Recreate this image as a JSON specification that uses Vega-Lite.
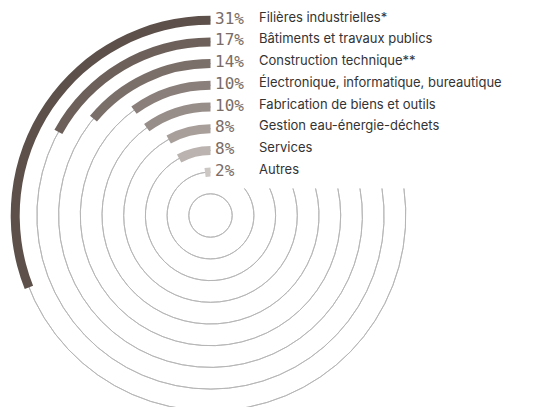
{
  "$schema": "https://vega.github.io/schema/vega-lite/v6.json",
  "width": 421,
  "height": 431,
  "padding": 0,
  "autosize": {"type": "pad"},
  "background": "white",
  "config": {"view": {"stroke": null}},
  "datasets": {
    "rings": [{"ring": 1}, {"ring": 2}, {"ring": 3}, {"ring": 4}, {"ring": 5}, {"ring": 6}, {"ring": 7}, {"ring": 8}, {"ring": 9}],
    "cats": [
      {"ring": 9, "pct": 31, "cat": "Filières industrielles*"},
      {"ring": 8, "pct": 17, "cat": "Bâtiments et travaux publics"},
      {"ring": 7, "pct": 14, "cat": "Construction technique**"},
      {"ring": 6, "pct": 10, "cat": "Électronique, informatique, bureautique"},
      {"ring": 5, "pct": 10, "cat": "Fabrication de biens et outils"},
      {"ring": 4, "pct": 8, "cat": "Gestion eau-énergie-déchets"},
      {"ring": 3, "pct": 8, "cat": "Services"},
      {"ring": 2, "pct": 2, "cat": "Autres"}
    ]
  },
  "layer": [
    {
      "data": {"name": "rings"},
      "transform": [
        {"calculate": "datum.ring * 21.7 > 27 ? acos(27 / (datum.ring * 21.7)) : 0", "as": "startA"},
        {"calculate": "6.2832", "as": "endA"}
      ],
      "mark": {"type": "arc", "fill": null, "filled": false, "stroke": "#b4b4b4", "strokeWidth": 0.9},
      "encoding": {
        "theta": {"field": "startA", "type": "quantitative", "stack": null, "scale": null},
        "theta2": {"field": "endA"},
        "radius": {"field": "ring", "type": "quantitative", "scale": {"type": "linear", "domain": [0, 9], "range": [0, 195.3], "zero": true}},
        "radius2": {"field": "ring"}
      }
    },
    {
      "data": {"name": "cats"},
      "transform": [{"calculate": "-datum.pct / 100 * 6.2832", "as": "endA"}, {"calculate": "0", "as": "startA"}],
      "mark": {"type": "arc", "radiusOffset": 4.5, "radius2Offset": -4.5},
      "encoding": {
        "theta": {"field": "endA", "type": "quantitative", "stack": null, "scale": null},
        "theta2": {"field": "startA"},
        "radius": {"field": "ring", "type": "quantitative"},
        "radius2": {"field": "ring"},
        "color": {"field": "cat", "type": "nominal", "legend": null, "scale": {
          "domain": ["Filières industrielles*", "Bâtiments et travaux publics", "Construction technique**", "Électronique, informatique, bureautique", "Fabrication de biens et outils", "Gestion eau-énergie-déchets", "Services", "Autres"],
          "range": ["#5d504a", "#6d605a", "#7b6f6a", "#8a7f7a", "#978d89", "#a89f9b", "#bbb3b0", "#cdc7c4"]}}
      }
    },
    {
      "data": {"name": "cats"},
      "transform": [{"calculate": "datum.pct + '%'", "as": "pctText"}],
      "mark": {"type": "text", "align": "left", "baseline": "middle", "dx": 4.5, "dy": -1.5, "font": "DejaVu Sans Mono", "fontSize": 16, "color": "#7a6c66"},
      "encoding": {
        "theta": {"datum": 0, "scale": null},
        "radius": {"field": "ring", "type": "quantitative"},
        "text": {"field": "pctText"}
      }
    },
    {
      "data": {"name": "cats"},
      "mark": {"type": "text", "align": "left", "baseline": "middle", "dx": 48.5, "dy": -2.5, "font": "Inter", "fontSize": 13, "color": "#333333"},
      "encoding": {
        "theta": {"datum": 0, "scale": null},
        "radius": {"field": "ring", "type": "quantitative"},
        "text": {"field": "cat"}
      }
    }
  ]
}
